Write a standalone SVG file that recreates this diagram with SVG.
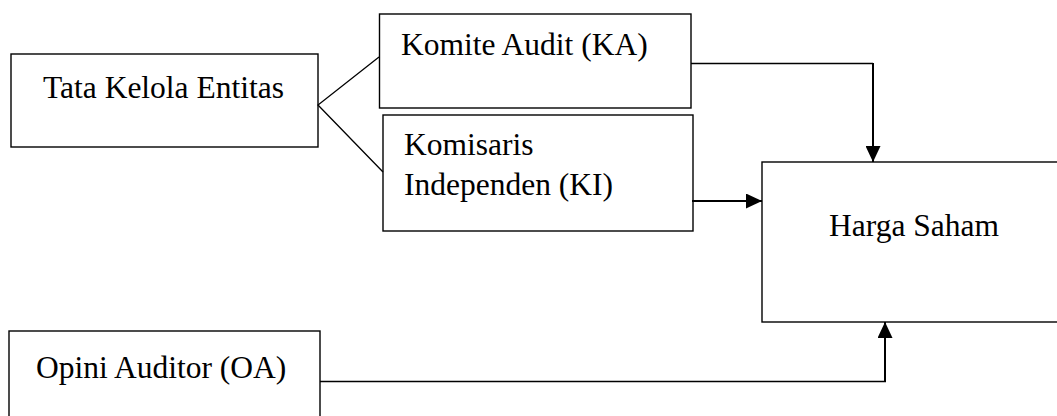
<svg xmlns="http://www.w3.org/2000/svg" width="1057" height="416" viewBox="0 0 1057 416">
<style>
.box{fill:#fff;stroke:#000;stroke-width:1.4}
.t{font-family:'Liberation Serif','Times New Roman','DejaVu Serif',serif;font-size:31.5px;fill:#000}
.ln{fill:none;stroke:#000;stroke-width:1.3}
.ar{fill:none;stroke:#000;stroke-width:2}
</style>
<defs>
<marker id="ah" markerWidth="16" markerHeight="15" refX="16" refY="7.5" orient="auto" markerUnits="userSpaceOnUse">
<path d="M0,0 L16,7.5 L0,15 Z" fill="#000"/>
</marker>
</defs>
<rect width="1057" height="416" fill="#fff"/>
<g id="tata-kelola">
<rect class="box" x="11" y="54" width="307" height="93"/>
<text class="t" font-family="Liberation Serif, Times New Roman, serif" x="43" y="98">Tata Kelola Entitas</text>
</g>
<g id="komite-audit">
<rect class="box" x="379.5" y="14" width="311.5" height="94"/>
<text class="t" font-family="Liberation Serif, Times New Roman, serif" x="401" y="55">Komite Audit (KA)</text>
</g>
<g id="komisaris">
<rect class="box" x="383" y="115" width="310" height="116"/>
<text class="t" font-family="Liberation Serif, Times New Roman, serif" x="404" y="155">Komisaris</text>
<text class="t" font-family="Liberation Serif, Times New Roman, serif" x="404" y="195">Independen (KI)</text>
</g>
<g id="harga-saham">
<rect class="box" x="762" y="162" width="310" height="160"/>
<text class="t" font-family="Liberation Serif, Times New Roman, serif" x="829" y="236">Harga Saham</text>
</g>
<g id="opini-auditor">
<rect class="box" x="9" y="331" width="311" height="100"/>
<text class="t" font-family="Liberation Serif, Times New Roman, serif" x="36" y="378">Opini Auditor (OA)</text>
</g>
<g id="connectors">
<path class="ln" d="M379,57 L318,105 L383,172"/>
<path class="ln" d="M691,63.5 H873"/>
<path class="ar" d="M873,63 V162" marker-end="url(#ah)"/>
<path class="ar" d="M692,201 H762" marker-end="url(#ah)"/>
<path class="ln" d="M320,381.5 H886"/>
<path class="ar" d="M885,382 V322" marker-end="url(#ah)"/>
</g>
</svg>
